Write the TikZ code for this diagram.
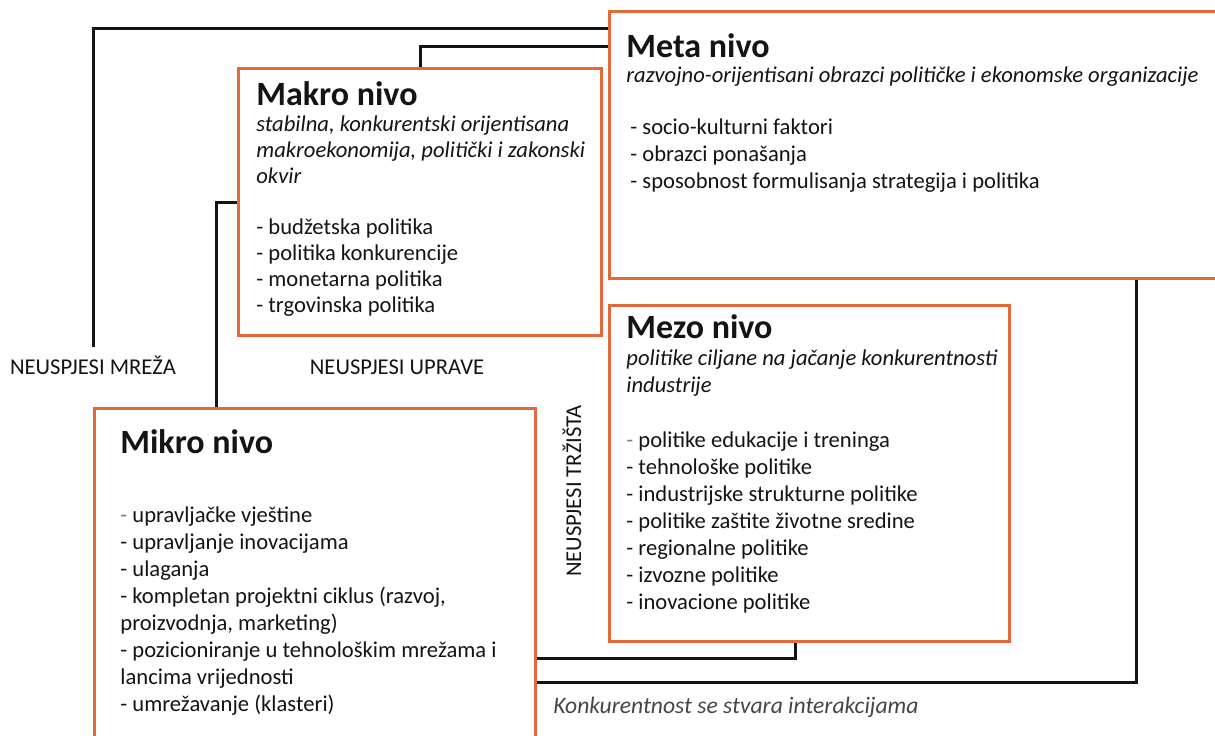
\documentclass[tikz,border=0pt]{standalone}
\usepackage{fontspec}
\setmainfont{Carlito}
\usetikzlibrary{positioning,calc}
\definecolor{okvir}{RGB}{228,104,58}
\definecolor{tamno}{RGB}{20,20,20}
\definecolor{siva}{RGB}{70,70,70}
\tikzset{
  nivo/.style={draw=okvir, line width=1.6pt, fill=white, inner sep=0pt, anchor=north west},
  naslov/.style={font=\fontsize{17}{20}\selectfont\bfseries, text=tamno, anchor=base west, inner sep=0pt},
  opis/.style={font=\fontsize{11.3}{13.5}\selectfont\itshape, text=tamno, align=left, anchor=base west, inner sep=0pt},
  stavke/.style={font=\fontsize{11.3}{13.5}\selectfont, text=tamno, align=left, anchor=base west, inner sep=0pt},
  veza/.style={draw=tamno, line width=1.5pt},
  neuspjeh/.style={font=\fontsize{11.3}{13}\selectfont, text=tamno, anchor=base, inner sep=0pt}
}
\begin{document}
\begin{tikzpicture}[x=0.5pt,y=-0.5pt,line join=miter]
\useasboundingbox[fill=white] (0,0) rectangle (1215,735);
% okviri nivoa
\node[nivo, minimum width=310pt, minimum height=133.5pt] (meta) at (608,10) {};
\node[nivo, minimum width=181.5pt, minimum height=133.5pt] (makro) at (237,67) {};
\node[nivo, minimum width=200pt, minimum height=168pt] (mezo) at (608,304) {};
\node[nivo, minimum width=220.5pt, minimum height=172.5pt] (mikro) at (93,407) {};
% tekst u okvirima (sidro je na zadnjem redu)
\node[naslov] (metanaslov) at (626,57) {Meta nivo};
\node[opis] (metaopis) at (626,82) {razvojno-orijentisani obrazci političke i ekonomske organizacije};
\node[stavke] (metastavke) at (630,188) {- socio-kulturni faktori\\- obrazci ponašanja\\- sposobnost formulisanja strategija i politika};
\node[naslov] (makronaslov) at (256,105) {Makro nivo};
\node[opis, font=\fontsize{11.3}{13}\selectfont\itshape] (makroopis) at (256,183) {stabilna, konkurentski orijentisana\\makroekonomija, politički i zakonski\\okvir};
\node[stavke, font=\fontsize{11.3}{12.9}\selectfont] (makrostavke) at (256,312) {- budžetska politika\\- politika konkurencije\\- monetarna politika\\- trgovinska politika};
\node[naslov] (mezonaslov) at (626,338) {Mezo nivo};
\node[opis] (mezoopis) at (626,392) {politike ciljane na jačanje konkurentnosti\\industrije};
\node[stavke] (mezostavke) at (626,609) {\textcolor{gray}{-} politike edukacije i treninga\\- tehnološke politike\\- industrijske strukturne politike\\- politike zaštite životne sredine\\- regionalne politike\\- izvozne politike\\- inovacione politike};
\node[naslov] (mikronaslov) at (120,453) {Mikro nivo};
\node[stavke] (mikrostavke) at (120,711) {\textcolor{gray}{-} upravljačke vještine\\- upravljanje inovacijama\\- ulaganja\\- kompletan projektni ciklus (razvoj,\\proizvodnja, marketing)\\- pozicioniranje u tehnološkim mrežama i\\lancima vrijednosti\\- umrežavanje (klasteri)};
% neuspjesi
\node[neuspjeh] (mreza) at (93,374) {NEUSPJESI MREŽA};
\node[neuspjeh] (uprava) at (397,374) {NEUSPJESI UPRAVE};
\node[neuspjeh, anchor=center, rotate=90] (trziste) at (572,491) {NEUSPJESI TRŽIŠTA};
\node[font=\fontsize{11.8}{13}\selectfont\itshape, text=siva, anchor=base west, inner sep=0pt] (interakcije) at (553,713) {Konkurentnost se stvara interakcijama};
% veze
\draw[veza] ($(meta.north west)+(0,18)$) -| ([yshift=4pt]mreza.north);
\draw[veza] ($(meta.north west)+(0,36)$) -| (makro.north);
\draw[veza] (makro.west) -| ($(mikro.north west)+(123,0)$);
\draw[veza] ($(mezo.south west)+(187,0)$) |- ($(mikro.north east)+(0,251)$);
\draw[veza] ($(meta.south east)+(-95,0)$) |- ($(mikro.north east)+(0,275)$);
\end{tikzpicture}
\end{document}
